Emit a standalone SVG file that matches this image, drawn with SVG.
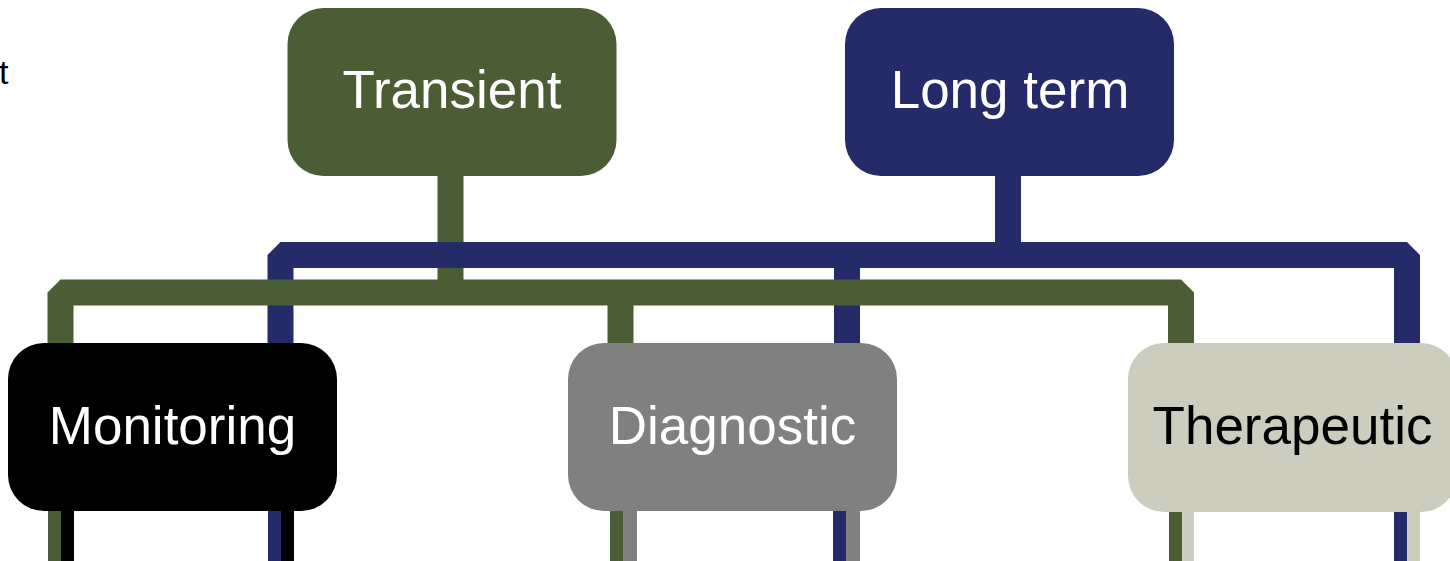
<svg xmlns="http://www.w3.org/2000/svg" width="1450" height="561" viewBox="0 0 1450 561">
<style>
.lbl{font-family:"Liberation Sans",Arial,sans-serif;font-size:53px;text-anchor:middle}
.w{fill:#ffffff}
.k{fill:#000000}
.con{fill:none;stroke-width:26;stroke-linejoin:bevel}
.g{stroke:#4a5d35}
.b{stroke:#252b69}
</style>
<rect width="1450" height="561" fill="#ffffff"/>
<text x="-1" y="84" font-family="'Liberation Sans',Arial,sans-serif" font-size="34" fill="#000">t</text>
<g id="connectors">
  <path class="con g" d="M450.5 170 V292.5"/>
  <path class="con b" d="M1008 170 V255"/>
  <path class="con b" d="M280.5 350 V255 H1407 V350"/>
  <path class="con b" d="M847 255 V350"/>
  <path class="con g" d="M60.5 350 V292.5 H1181 V350"/>
  <path class="con g" d="M620.5 292.5 V350"/>
  <rect x="48" y="505" width="13" height="56" fill="#4a5d35"/>
  <rect x="61" y="505" width="13" height="56" fill="#000000"/>
  <rect x="268" y="505" width="13" height="56" fill="#252b69"/>
  <rect x="281" y="505" width="13" height="56" fill="#000000"/>
  <rect x="610" y="505" width="13" height="56" fill="#4a5d35"/>
  <rect x="623" y="505" width="14" height="56" fill="#808080"/>
  <rect x="833" y="505" width="13" height="56" fill="#252b69"/>
  <rect x="846" y="505" width="14" height="56" fill="#808080"/>
  <rect x="1169" y="505" width="13" height="56" fill="#4a5d35"/>
  <rect x="1182" y="505" width="12" height="56" fill="#cccdbf"/>
  <rect x="1394" y="505" width="13" height="56" fill="#252b69"/>
  <rect x="1407" y="505" width="13" height="56" fill="#cccdbf"/>
</g>
<g id="transient">
  <rect x="287.5" y="8" width="329" height="168" rx="36" fill="#4a5d35"/>
  <text class="lbl w" x="452" y="108">Transient</text>
</g>
<g id="longterm">
  <rect x="845" y="8" width="329" height="168" rx="36" fill="#252b69"/>
  <text class="lbl w" x="1010" y="108">Long term</text>
</g>
<g id="monitoring">
  <rect x="8" y="343" width="329" height="168" rx="36" fill="#000000"/>
  <text class="lbl w" x="172.5" y="444">Monitoring</text>
</g>
<g id="diagnostic">
  <rect x="568" y="343" width="329" height="168" rx="36" fill="#808080"/>
  <text class="lbl w" x="732.5" y="444">Diagnostic</text>
</g>
<g id="therapeutic">
  <rect x="1128" y="343" width="329" height="169" rx="36" fill="#cccdbf"/>
  <text class="lbl k" x="1292.5" y="444">Therapeutic</text>
</g>
</svg>
